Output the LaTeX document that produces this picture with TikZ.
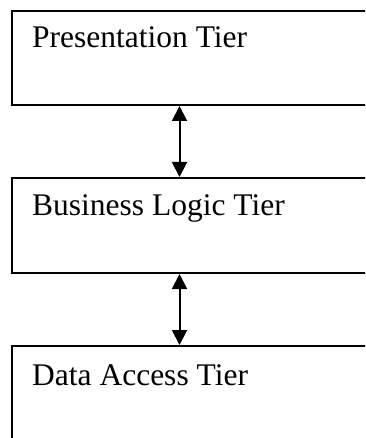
\documentclass[tikz,border=0pt]{standalone}
\usepackage{fontspec}
\setmainfont{Liberation Serif}
\usetikzlibrary{arrows.meta}
\begin{document}
\begin{tikzpicture}[x=1pt,y=-1pt,
  tier/.style={draw=black, line width=2pt, rectangle, minimum width=420pt,
    anchor=north west, inner sep=0pt},
  tierlabel/.style={anchor=base west, inner sep=0pt, font=\fontsize{31.5}{36}\selectfont},
  link/.style={line width=2pt, {Triangle[length=15pt,width=15pt]}-{Triangle[length=15pt,width=15pt]}}]
  \useasboundingbox (0,0) rectangle (365,438);
  \clip (0,0) rectangle (365,438);
  % the three tiers
  \node[tier, minimum height=94pt] (pres) at (11,10) {};
  \node[tier, minimum height=95pt] (logic) at (11,177) {};
  \node[tier, minimum height=120pt] (data) at (11,345) {};
  \node[tierlabel] (presT) at (32,48) {Presentation Tier};
  \node[tierlabel] (logicT) at (32,215) {Business Logic Tier};
  \node[tierlabel] (dataT) at (32,385) {Data Access Tier};
  % two-way links between neighbouring tiers
  \coordinate (ax) at (179.5,0);
  \draw[link] (pres.south -| ax) -- (logic.north -| ax);
  \draw[link] (logic.south -| ax) -- (data.north -| ax);
\end{tikzpicture}
\end{document}
